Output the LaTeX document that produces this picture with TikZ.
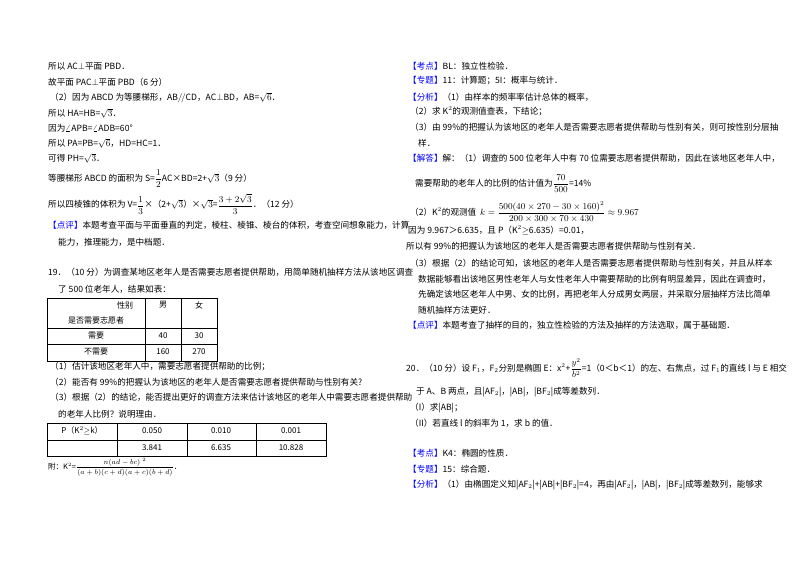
\documentclass[tikz,border=0pt]{standalone}
\usepackage{fontspec}
\setmainfont{Noto Sans CJK SC}
\usepackage{amsmath}
\begin{document}
\begin{tikzpicture}[x=1pt,y=-1pt,
  t/.style={anchor=west,inner sep=0pt,font=\fontsize{8.6}{10}\selectfont},
  c/.style={anchor=center,inner sep=0pt,font=\fontsize{8}{10}\selectfont},
  hl/.style={text=blue}]
\useasboundingbox (0,0) rectangle (800,565);
\fill[white] (0,0) rectangle (800,565);
% left column
\node[t] (l1) at (48,66) {所以 AC$\perp$平面 PBD．};
\node[t] (l2) at (48,82) {故平面 PAC$\perp$平面 PBD（6 分）};
\node[t] (l3) at (50,98) {（2）因为 ABCD 为等腰梯形，AB$/\!/$CD，AC$\perp$BD，AB=$\sqrt{6}$．};
\node[t] (l4) at (48,113) {所以 HA=HB=$\sqrt{3}$．};
\node[t] (l5) at (48,128) {因为$\angle$APB=$\angle$ADB=60°};
\node[t] (l6) at (48,143) {所以 PA=PB=$\sqrt{6}$，HD=HC=1．};
\node[t] (l7) at (48,158) {可得 PH=$\sqrt{3}$．};
\node[t] (l8) at (48,179) {等腰梯形 ABCD 的面积为 S=$\dfrac{1}{2}$AC×BD=2+$\sqrt{3}$（9 分）};
\node[t] (l9) at (48,204) {所以四棱锥的体积为 V=$\dfrac{1}{3}$×（2+$\sqrt{3}$）×$\sqrt{3}$=$\dfrac{3+2\sqrt{3}}{3}$．（12 分）};
\node[t] (l10) at (48,225) {\textcolor{blue}{【点评】}本题考查平面与平面垂直的判定，棱柱、棱锥、棱台的体积，考查空间想象能力，计算};
\node[t] (l11) at (58,242) {能力，推理能力，是中档题．};
\node[t] (l12) at (48,272) {19．（10 分）为调查某地区老年人是否需要志愿者提供帮助，用简单随机抽样方法从该地区调查};
\node[t] (l13) at (58,289) {了 500 位老年人，结果如表：};
% table 1
\draw[line width=0.6pt] (47,298) rectangle (217,361);
\draw[line width=0.6pt] (47,328) -- (217,328) (47,344) -- (217,344)
  (145,298) -- (145,361) (181,298) -- (181,361);
\node[c] (a1) at (125,305) {性别};
\node[c] (a2) at (96,320) {是否需要志愿者};
\node[c] (a3) at (163,305) {男};
\node[c] (a4) at (199,305) {女};
\node[c] (a5) at (96,336) {需要};
\node[c] (a6) at (163,336) {40};
\node[c] (a7) at (199,336) {30};
\node[c] (a8) at (96,352) {不需要};
\node[c] (a9) at (163,352) {160};
\node[c] (a10) at (199,352) {270};
\node[t] (l14) at (50,367) {（1）估计该地区老年人中，需要志愿者提供帮助的比例；};
\node[t] (l15) at (50,382) {（2）能否有 99\%的把握认为该地区的老年人是否需要志愿者提供帮助与性别有关?};
\node[t] (l16) at (50,397) {（3）根据（2）的结论，能否提出更好的调查方法来估计该地区的老年人中需要志愿者提供帮助};
\node[t] (l17) at (58,414) {的老年人比例？说明理由．};
% table 2
\draw[line width=0.6pt] (47,423) rectangle (326,456);
\draw[line width=0.6pt] (47,440) -- (326,440) (117,423) -- (117,456)
  (187,423) -- (187,456) (256,423) -- (256,456);
\node[c] (b1) at (82,431) {P（K$^2$$\geq$k）};
\node[c] (b2) at (152,431) {0.050};
\node[c] (b3) at (221,431) {0.010};
\node[c] (b4) at (291,431) {0.001};
\node[c] (b5) at (152,448) {3.841};
\node[c] (b6) at (221,448) {6.635};
\node[c] (b7) at (291,448) {10.828};
\node[t,font=\fontsize{7.5}{9}\selectfont] (l18) at (48,467) {附：K$^2$=$\dfrac{n(ad-bc)^{\;2}}{(a+b)(c+d)(a+c)(b+d)}$．};
% right column
\node[t] (r1) at (408,66) {\textcolor{blue}{【考点】}BL：独立性检验．};
\node[t] (r2) at (408,81) {\textcolor{blue}{【专题】}11：计算题；5I：概率与统计．};
\node[t] (r3) at (408,97) {\textcolor{blue}{【分析】}（1）由样本的频率率估计总体的概率，};
\node[t] (r4) at (410,111) {（2）求 K$^2$的观测值查表，下结论；};
\node[t] (r5) at (410,127) {（3）由 99\%的把握认为该地区的老年人是否需要志愿者提供帮助与性别有关，则可按性别分层抽};
\node[t] (r6) at (418,143) {样．};
\node[t] (r7) at (408,158) {\textcolor{blue}{【解答】}解：（1）调查的 500 位老年人中有 70 位需要志愿者提供帮助，因此在该地区老年人中，};
\node[t] (r8) at (415,184) {需要帮助的老年人的比例的估计值为$\dfrac{70}{500}$=14\%};
\node[t] (r9) at (410,212) {（2）K$^2$的观测值\ \ $k=\dfrac{500(40\times270-30\times160)^2}{200\times300\times70\times430}\approx9.967$};
\node[t] (r10) at (408,230) {因为 9.967＞6.635，且 P（K$^2$$\geq$6.635）=0.01，};
\node[t] (r11) at (406,246) {所以有 99\%的把握认为该地区的老年人是否需要志愿者提供帮助与性别有关．};
\node[t] (r12) at (410,263) {（3）根据（2）的结论可知，该地区的老年人是否需要志愿者提供帮助与性别有关，并且从样本};
\node[t] (r13) at (418,279) {数据能够看出该地区男性老年人与女性老年人中需要帮助的比例有明显差异，因此在调查时，};
\node[t] (r14) at (418,294) {先确定该地区老年人中男、女的比例，再把老年人分成男女两层，并采取分层抽样方法比简单};
\node[t] (r15) at (418,310) {随机抽样方法更好．};
\node[t] (r16) at (408,325) {\textcolor{blue}{【点评】}本题考查了抽样的目的，独立性检验的方法及抽样的方法选取，属于基础题．};
\node[t] (r17) at (406,368) {20．（10 分）设 F$_1$，F$_2$分别是椭圆 E：x$^2$+$\dfrac{y^2}{b^2}$=1（0＜b＜1）的左、右焦点，过 F$_1$的直线 l 与 E 相交};
\node[t] (r18) at (416,392) {于 A、B 两点，且|AF$_2$|，|AB|，|BF$_2$|成等差数列．};
\node[t] (r19) at (410,408) {（I）求|AB|；};
\node[t] (r20) at (410,423) {（II）若直线 l 的斜率为 1，求 b 的值．};
\node[t] (r21) at (408,453) {\textcolor{blue}{【考点】}K4：椭圆的性质．};
\node[t] (r22) at (408,469) {\textcolor{blue}{【专题】}15：综合题．};
\node[t] (r23) at (408,485) {\textcolor{blue}{【分析】}（1）由椭圆定义知|AF$_2$|+|AB|+|BF$_2$|=4，再由|AF$_2$|，|AB|，|BF$_2$|成等差数列，能够求};
\end{tikzpicture}
\end{document}
